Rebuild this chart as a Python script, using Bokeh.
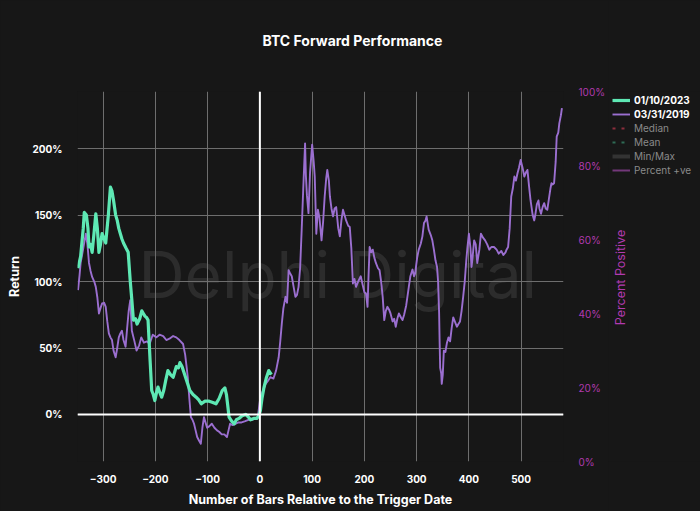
import math
from bokeh.plotting import figure
from bokeh.layouts import row
from bokeh.models import (Range1d, LinearAxis, Span, Label, Legend, LegendItem, Title,
                          SingleIntervalTicker, PrintfTickFormatter)
from bokeh.embed import file_html
from bokeh.resources import INLINE

# BTC forward performance
x_2023 = [-348, -343, -338, -336, -332, -329, -327, -324, -321, -317, -314, -311, -308, -305,
          -302, -298, -295, -290, -286, -283, -280, -276, -273, -270, -267, -264, -261, -256,
          -252, -248, -245, -242, -238, -235, -230, -226, -223, -220, -217, -214, -210, -207,
          -204, -201, -198, -195, -191, -188, -184, -180, -176, -171, -166, -163, -160, -156,
          -153, -149, -144, -139, -134, -128, -122, -117, -112, -105, -97, -90, -84, -78, -72,
          -67, -64, -61, -59, -54, -49, -45, -40, -34, -27, -22, -18, -12, -6, -2, 1, 4, 8, 12,
          17, 22]
r_2023 = [110, 119, 140, 152, 150, 140, 126, 128, 122, 138, 151, 140, 122, 128,
          136, 132, 129, 150, 171, 168, 161, 150, 146, 140, 136, 132, 129, 125,
          122, 100, 86, 71, 72, 68, 72, 78, 76, 74, 73, 71, 40, 18,
          15, 10.5, 16, 20.6, 16, 13, 18, 26, 33, 30, 28, 32, 36, 35,
          39, 36, 30, 24, 18, 15, 13, 11, 8, 10, 10, 9, 8, 12, 18,
          20, 15, 5, -2, -5, -7, -4, -3, -1, 0, -2, -4, -3, -3, -1, 3, 12, 20.6, 27,
          33, 30]

x_2019 = [-348, -345, -343, -338, -333, -330, -327, -324, -321, -317, -314, -311, -308, -305,
          -302, -298, -295, -292, -289, -286, -283, -280, -276, -273, -270, -267, -264, -261,
          -257, -254, -251, -248, -245, -240, -236, -231, -227, -222, -216, -211, -205, -198,
          -192, -185, -179, -173, -166, -160, -154, -147, -143, -140, -138, -135, -132, -129,
          -126, -123, -120, -116, -113, -110, -107, -104, -101, -97, -92, -87, -82, -78, -73,
          -68, -63, -60, -57, -52, -47, -41, -35, -28, -22, -15, -9, -4,
          1, 6, 11, 15, 20, 26, 31, 36, 39, 42, 45, 49, 52, 55, 58, 61, 65, 68, 71, 74, 77,
          80, 83, 86.5, 88, 90, 93, 96, 100, 103, 105, 108, 111, 114, 118, 121, 124, 127, 129,
          132, 134, 137, 140, 143, 146, 150, 153, 156, 159, 162, 165, 169, 172, 175, 178, 181,
          184, 188, 193, 197, 200, 203, 206, 208, 210, 213, 216, 219, 222, 226, 229, 232, 235,
          238, 241, 244, 247, 250, 254, 257, 260, 263, 266, 270, 273, 276, 280, 285, 288, 292,
          295, 297, 301, 304, 308, 311, 314, 317, 319, 323, 327, 330, 333, 336, 339, 341, 343,
          344, 345, 347, 348, 350, 352, 355, 358, 361, 364, 367, 370, 373, 377, 380, 383, 386,
          389, 392, 395, 397, 400, 403, 405, 407, 410, 413, 416, 420, 423, 427, 431, 435, 439,
          443, 448, 453, 457, 462, 466, 470, 472, 475, 478, 481, 484, 487, 490, 493, 496, 499,
          503, 506, 509, 512, 515, 518, 522, 525, 527, 530, 533, 535, 538, 541, 544, 547, 550,
          553, 556, 558, 560, 563, 566, 568, 571, 573, 576, 578, 580]
r_2019 = [93.5, 105, 114, 125, 136, 128, 114, 108, 103.5, 100, 96, 88, 76, 80,
          83.5, 84, 81, 70, 61, 58, 56, 48, 43, 50, 58, 61, 63, 56,
          51, 65, 78, 86, 63, 55, 48, 52, 58, 54, 55, 53, 60, 58,
          60, 59, 56, 57, 59, 58, 56, 53, 45, 35, 28, 12, -2, -4,
          -7, -12, -17, -20, -22, -10, -2, -6, -10, -9, -7, -10, -12, -13, -15,
          -15, -17, -12, -7, -8, -7, -6, -6, -5, -4, -4, -3, -2,
          13, 18, 23, 25, 28, 27, 33, 43, 55, 68.5, 80, 88.5, 84, 108.6, 106, 104, 95, 88.5, 90, 96, 110,
          139, 170, 204, 180, 165, 151.5, 182, 203, 190, 179, 136, 154, 148, 131, 145, 164, 178, 184,
          176, 164, 155, 149, 155, 156, 140, 134, 146, 154, 150, 146, 142, 141, 125, 98.5, 102,
          96, 100, 104, 97, 92, 91, 81, 105, 126, 122, 124, 118, 114, 110, 108.6, 100, 88.5,
          71, 78, 81, 79, 76, 70, 72, 66, 72, 76, 73, 71, 75, 82, 96, 104, 109,
          104, 106, 118, 124, 128.6, 134, 144, 146, 149, 139, 135, 131, 124, 116, 111, 100,
          76, 53.5, 35, 31, 23, 30, 48, 47, 54, 58, 55, 65, 73, 70, 66, 68, 70,
          78, 88.5, 100, 116, 125, 136, 125, 111, 118, 131, 128, 114, 124, 136, 133, 131, 128,
          124, 126, 126, 124, 121, 123, 120, 122, 124, 126, 140, 164, 170, 179, 176, 181.5, 186,
          191.5, 185, 179, 182, 184, 172, 161, 150, 146, 150, 158, 161, 155, 151, 156, 159, 155,
          154, 162, 170, 174, 173, 174, 190, 209, 212, 219, 225, 230.5]

legend_main = ['01/10/2023', '03/31/2019']
legend_off = ['Median', 'Mean', 'Min/Max', 'Percent +ve']

bg = '#171717'
green = '#5ee8b4'
purple = '#9b6fd0'
magenta = '#b23ab0'
font = 'Inter'

p = figure(width=608, height=511, output_backend="svg", toolbar_location=None,
           x_range=Range1d(-349, 581), y_range=Range1d(-35.4, 243), title=None,
           min_border_left=77, min_border_right=40, min_border_top=91, min_border_bottom=50)
p.background_fill_color = bg
p.border_fill_color = bg
p.outline_line_color = None

# spacer above the frame, then the real title above it
p.add_layout(Title(text=' ', text_font_size='1px', standoff=35), 'above')
p.add_layout(Title(text='BTC Forward Performance', align='left', offset=185,
                   text_color='white', text_font=font, text_font_size='14px',
                   text_font_style='bold'), 'above')

# watermark
p.add_layout(Label(x=149, y=105, text='Delphi Digital', text_align='center',
                   text_baseline='middle', text_font=font, text_font_size='64px',
                   text_color='#2c2c2c', level='image'))

p.xgrid.ticker = SingleIntervalTicker(interval=100)
p.ygrid.ticker = SingleIntervalTicker(interval=50)
p.grid.grid_line_color = '#6e6e6e'
p.grid.grid_line_width = 1

p.add_layout(Span(location=0, dimension='width', line_color='white', line_width=2))
p.add_layout(Span(location=0, dimension='height', line_color='white', line_width=2))

p.line(x_2019, r_2019, line_color=purple, line_width=1.9, line_join='round')
p.line(x_2023, r_2023, line_color=green, line_width=3.2, line_join='round')

for ax in (p.xaxis[0], p.yaxis[0]):
    ax.axis_line_color = None
    ax.major_tick_line_color = None
    ax.minor_tick_line_color = None
    ax.major_label_text_color = 'white'
    ax.major_label_text_font = font
    ax.major_label_text_font_style = 'bold'
    ax.major_label_text_font_size = '10px'
    ax.axis_label_text_color = 'white'
    ax.axis_label_text_font = font
    ax.axis_label_text_font_style = 'bold'
    ax.axis_label_text_font_size = '12.5px'

p.xaxis.ticker = SingleIntervalTicker(interval=100)
p.xaxis.axis_label = 'Number of Bars Relative to the Trigger Date'
p.xaxis.major_label_standoff = 7
p.xaxis.axis_label_standoff = 6

p.yaxis.ticker = SingleIntervalTicker(interval=50)
p.yaxis.formatter = PrintfTickFormatter(format='%d%%')
p.yaxis.axis_label = 'Return'
p.yaxis.major_label_standoff = 9
p.yaxis.axis_label_standoff = 8

p.extra_y_ranges = {'pct': Range1d(0, 100)}
ax2 = LinearAxis(y_range_name='pct', ticker=SingleIntervalTicker(interval=20),
                 formatter=PrintfTickFormatter(format='%d%%'))
ax2.axis_line_color = None
ax2.major_tick_line_color = None
ax2.minor_tick_line_color = None
ax2.major_label_text_color = magenta
ax2.major_label_text_font = font
ax2.major_label_text_font_size = '10px'
ax2.major_label_standoff = 9
p.add_layout(ax2, 'right')

# side strip: legend and the right axis title (its frame lines up with the main one)
p2 = figure(width=92, height=511, output_backend="svg", toolbar_location=None,
            x_range=Range1d(0, 92), y_range=Range1d(461, 91),
            x_axis_type=None, y_axis_type=None, min_border=0)
p2.background_fill_color = bg
p2.border_fill_color = bg
p2.outline_line_color = None

p2.add_layout(Label(x=12, y=277, text='Percent Positive', angle=math.pi / 2,
                    text_align='center', text_baseline='middle', text_font=font,
                    text_font_size='12.5px', text_color=magenta))

# legend-only renderers (one empty point each so the legend can draw a sample)
nan = [float('nan')]
g0 = p2.line(nan, nan, line_color=green, line_width=3.2)
g1 = p2.line(nan, nan, line_color=purple, line_width=1.9)
d_med = p2.line(nan, nan, line_color='#8c2e3c', line_width=2, line_dash='3 6')
d_mean = p2.line(nan, nan, line_color='#2f6b55', line_width=2, line_dash='3 6')
d_mm = p2.line(nan, nan, line_color='#333333', line_width=4)
d_pct = p2.line(nan, nan, line_color='#73387a', line_width=2)

leg1 = Legend(items=[LegendItem(label=t, renderers=[r])
                     for t, r in zip(legend_main, [g0, g1])], location=(4, 340))
leg2 = Legend(items=[LegendItem(label=t, renderers=[r])
                     for t, r in zip(legend_off, [d_med, d_mean, d_mm, d_pct])],
              location=(4, 284))
for lg, col, style in ((leg1, 'white', 'bold'), (leg2, '#8a8a8a', 'normal')):
    lg.background_fill_alpha = 0
    lg.border_line_color = None
    lg.padding = 0
    lg.margin = 0
    lg.spacing = 0
    lg.glyph_width = 18
    lg.glyph_height = 14
    lg.label_height = 14
    lg.label_standoff = 4
    lg.label_text_font = font
    lg.label_text_font_size = '10px'
    lg.label_text_font_style = style
    lg.label_text_color = col
    p2.add_layout(lg)

html = file_html(row(p, p2), INLINE)
html = html.replace('</head>', '<style>html, body { background: #171717; }</style></head>', 1)
open("out.html", "w").write(html)
